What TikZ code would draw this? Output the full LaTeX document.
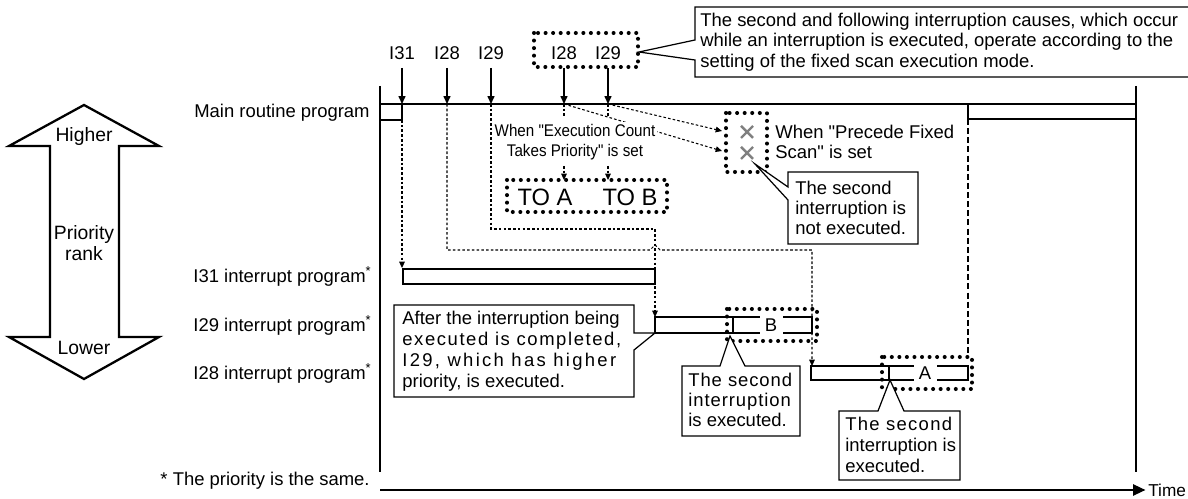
\documentclass[tikz,border=0pt]{standalone}
\usepackage{fontspec}
\setmainfont{Liberation Sans}
\usepackage{graphicx}
\usetikzlibrary{positioning}
\usetikzlibrary{arrows.meta}

\newcommand{\qq}{\textquotedbl}

\tikzset{
  lbl/.style={font=\fontsize{10.5}{12}\selectfont, inner sep=0pt},
  solidarr/.style={-{Triangle[length=4.5pt,width=4pt]}, line width=0.7pt},
  dotarr/.style={-{Triangle[length=3.6pt,width=3.2pt]}, line width=0.6pt, dash pattern=on 1.5pt off 1.2pt},
  dotline/.style={line width=0.6pt, dash pattern=on 1.5pt off 1.2pt},
  longdash/.style={line width=0.7pt, dash pattern=on 3.4pt off 1.8pt},
  dotbox/.style={line width=2.3pt, dash pattern=on 0pt off 4.3pt, line cap=round},
  bar/.style={draw, line width=0.7pt},
  callout/.style={draw, line width=0.7pt, fill=white},
  barlbl/.style={lbl, fill=white, minimum width=0.46cm, minimum height=0.44cm}
}

\begin{document}
\begin{tikzpicture}[x=0.02cm, y=-0.02cm]
\useasboundingbox (0,0) rectangle (1188,499);

%%%%%%%%%%%%  Priority arrow %%%%%%%%%%%%%
{
\draw[line width=1.3pt, line join=miter] (84,105) -- (159,146) -- (119,146) -- (119,337)
  -- (159,337) -- (84,379) -- (9,337) -- (50,337) -- (50,146) -- (9,146) -- cycle;
\node[lbl, font=\fontsize{11}{12}\selectfont] (higher) at (84,137) {Higher};
\node[lbl, font=\fontsize{11}{11.6}\selectfont, align=center] (rank) at (84,243) {Priority\\rank};
\node[lbl, font=\fontsize{11}{12}\selectfont] (lower) at (84,348) {Lower};
}

%%%%%%%%%%%%  Time frame %%%%%%%%%%%%%
{
\draw[line width=0.8pt] (380,86) -- (380,472);
\draw[line width=0.8pt] (1136,86) -- (1136,472);
\draw[line width=0.8pt] (380,104) -- (1136,104);

\coordinate (t0) at (380,490);
\node[lbl, font=\fontsize{9.8}{11}\selectfont, anchor=west] (time) at (1148,490) {Time};
\draw[-{Triangle[length=7pt,width=6.5pt]}, line width=0.7pt, shorten >=1.5pt] (t0) -- (time);

\node[lbl, anchor=east] (mainlbl) at (370,113) {Main routine program};
\node[lbl, anchor=east] (lbl31) at (372,276) {I31 interrupt program\textsuperscript{*}};
\node[lbl, anchor=east] (lbl29) at (372,325) {I29 interrupt program\textsuperscript{*}};
\node[lbl, anchor=east] (lbl28) at (372,373) {I28 interrupt program\textsuperscript{*}};
\node[lbl, anchor=east] (same) at (370,481) {* The priority is the same.};
}

%%%%%%%%%%%%  Interrupt causes %%%%%%%%%%%%%
{
\foreach \n/\t/\x in {c31/I31/402, c28/I28/447, c29/I29/491, d28/I28/564, d29/I29/608}
{
\node[lbl] (\n) at (\x,53) {\t};
\coordinate (h\n) at (\x,104);
\draw[solidarr, shorten <=4.5pt] (\n.south) -- (h\n);
}
\draw[dotbox] (534,33) rectangle (638,67);

% note
\draw[line width=0.7pt] (1190,7) -- (695,7) -- (695,40) -- (639,52) -- (695,60) -- (695,77) -- (1190,77);
\node[lbl, font=\fontsize{10.5}{11.6}\selectfont, anchor=west, align=left] (note) at (700,42)
{The second and following interruption causes, which occur\\
while an interruption is executed, operate according to the\\
setting of the fixed scan execution mode.};
}

%%%%%%%%%%%%  Main routine %%%%%%%%%%%%%
{
\draw[bar] (380,104) rectangle (402,120);
\draw[bar] (968,104) rectangle (1136,119);
}

%%%%%%%%%%%%  Fixed scan modes %%%%%%%%%%%%%
{
\coordinate (xa) at (722,131);
\coordinate (xb) at (722,151);
\draw[dotarr] (hd28) -- (xb);
\draw[dotarr] (hd29) -- (xa);

% execution count
\draw[dotline] (hd28) -- (564,118);
\draw[dotline] (hd29) -- (608,118);
\node[fill=white, inner sep=1pt, align=center, font=\fontsize{9.6}{11.4}\selectfont] (exec) at (575,142)
{\scalebox{0.9}[1]{When \qq Execution Count}\\\scalebox{0.9}[1]{Takes Priority\qq{} is set}};
\node[lbl, font=\fontsize{13.5}{14}\selectfont] (toa) at (545,197) {TO A};
\node[lbl, font=\fontsize{13.5}{14}\selectfont] (tob) at (630,197) {TO B};
\draw[dotarr] (564,166) -- (564,180);
\draw[dotarr] (608,166) -- (608,180);
\draw[dotbox] (507,180) rectangle (667,212);

% precede fixed scan
\draw[dotbox] (726,113) rectangle (767,172);
\draw[gray, line width=1.4pt] (741,126) -- (753,138) (741,138) -- (753,126);
\draw[gray, line width=1.4pt] (741,147) -- (753,159) (741,159) -- (753,147);
\node[lbl, anchor=west, align=left, font=\fontsize{10.5}{11.3}\selectfont] (prec) at (775,142)
{When \qq Precede Fixed\\Scan\qq{} is set};

\draw[callout] (788,172) -- (918,172) -- (918,244) -- (788,244) -- (788,200) -- (755,164) -- (788,187) -- cycle;
\node[lbl, anchor=west, align=left, font=\fontsize{10.5}{11.3}\selectfont] (notexec) at (795,208)
{The second\\interruption is\\not executed.};
}

%%%%%%%%%%%%  Interrupt programs %%%%%%%%%%%%%
{
\draw[dotarr] (402,120) -- (402,268);
\draw[dotarr] (hc28) -- (447,250) -- (650,250) -- (655,245) -- (660,250) -- (812,250) -- (812,366);
\draw[dotarr] (hc29) -- (491,229) -- (655,229) -- (655,317);
\draw[longdash] (968,119) -- (968,355);

% bars
\draw[bar] (403,269) rectangle (655,284);
\draw[bar] (655,317) rectangle (812,333);
\draw[bar] (733,317) -- (733,333);
\node[barlbl] (labB) at (771,325) {B};
\draw[bar] (811,366) rectangle (968,380);
\draw[bar] (889,366) -- (889,380);
\node[barlbl] (labA) at (925,373) {A};

\draw[dotbox] (727,309) rectangle (817,341);
\draw[dotbox] (882,357) rectangle (972,389);
}

%%%%%%%%%%%%  Callouts %%%%%%%%%%%%%
{
\draw[callout] (634,333) -- (655,333) -- (634,350) -- (634,397) -- (394,397) -- (394,305) -- (634,305) -- cycle;
\node[lbl, anchor=west, align=left, font=\fontsize{10.5}{12}\selectfont] (after) at (402,351)
{After the interruption being\\
{\addfontfeature{LetterSpace=8.6}executed is completed,}\\
{\addfontfeature{LetterSpace=12.6}I29, which has higher}\\
priority, is executed.};

\draw[callout] (682,366) -- (720,366) -- (730,336) -- (745,366) -- (800,366) -- (800,436) -- (682,436) -- cycle;
\node[lbl, anchor=west, align=left, font=\fontsize{10.5}{11.6}\selectfont] (execB) at (688,400)
{{\addfontfeature{LetterSpace=5}The second}\\
{\addfontfeature{LetterSpace=5}interruption}\\
is executed.};

\draw[callout] (839,411) -- (878,411) -- (890,380) -- (904,411) -- (960,411) -- (960,480) -- (839,480) -- cycle;
\node[lbl, anchor=west, align=left, font=\fontsize{10.5}{12}\selectfont] (execA) at (845,445)
{{\addfontfeature{LetterSpace=7}The second}\\
interruption is\\
executed.};
}

\end{tikzpicture}
\end{document}
